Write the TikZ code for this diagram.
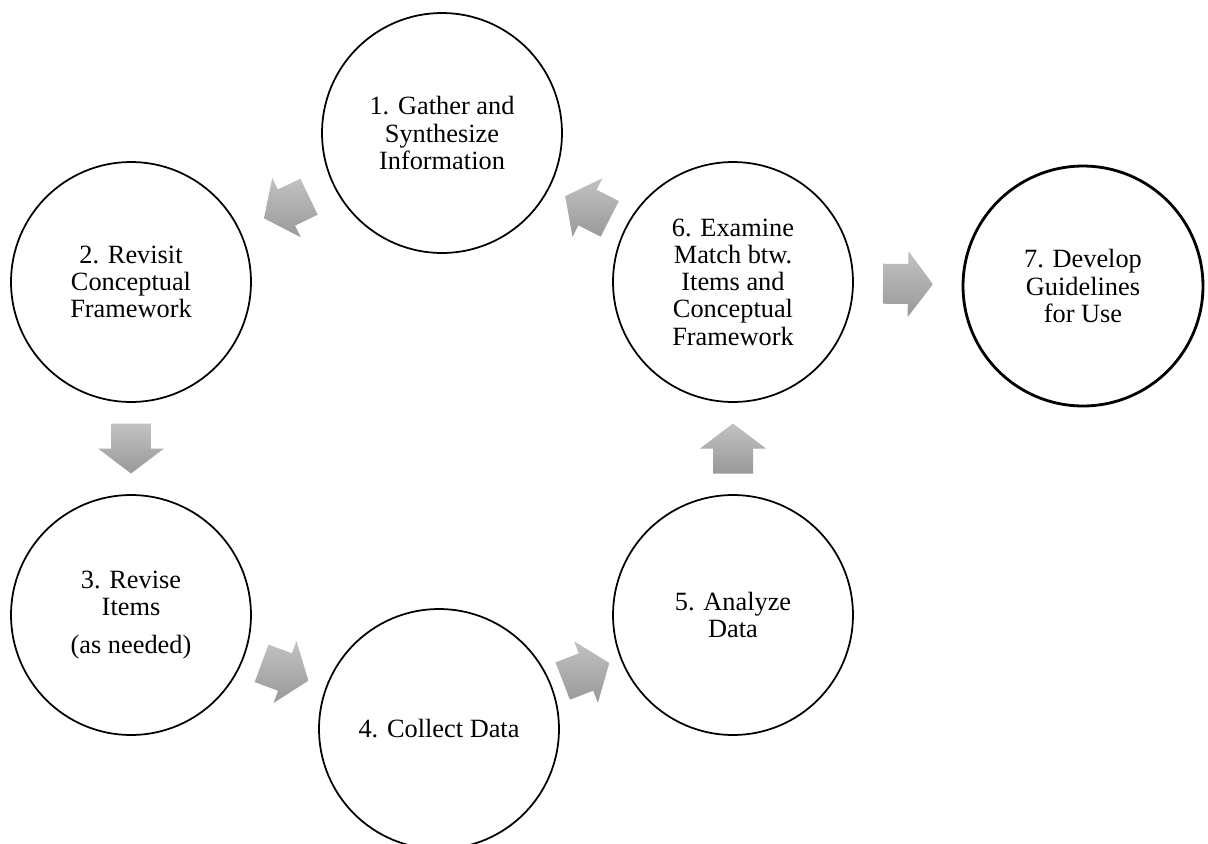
\documentclass[tikz,border=0pt]{standalone}
\usepackage{fontspec}
\setmainfont{Liberation Serif}
\usetikzlibrary{calc}

\tikzset{
  stepcircle/.style={circle, draw, line width=1pt, minimum size=4.8cm, inner sep=0pt,
    align=center, font=\fontsize{15}{15.5}\selectfont},
  laststep/.style={stepcircle, line width=1.6pt},
  flowarrow/.style={top color=black!24, bottom color=black!40, draw=none}
}

\begin{document}
\begin{tikzpicture}[x=0.02cm, y=-0.02cm]
  \useasboundingbox (0,0) rectangle (1208,843);

  % step circles
  \node[stepcircle] (s1) at (442,133) {1. Gather and\\Synthesize\\Information};
  \node[stepcircle] (s2) at (131,282) {2. Revisit\\Conceptual\\Framework};
  \node[stepcircle] (s3) at (131,615) {3. Revise\\Items\\[0.2cm](as needed)};
  \node[stepcircle] (s4) at (439,729) {4. Collect Data};
  \node[stepcircle] (s5) at (733,615) {5. Analyze\\Data};
  \node[stepcircle] (s6) at (733,282) {6. Examine\\Match btw.\\Items and\\Conceptual\\Framework};
  \node[laststep] (s7) at (1083,286) {7. Develop\\Guidelines\\for Use};

  % block arrows half way between the steps
  \foreach \a/\b in {s1/s2, s2/s3, s3/s4, s4/s5, s5/s6, s6/s1, s6/s7} {
    \path let \p1 = ($(\b)-(\a)$), \n1 = {atan2(\y1,\x1)} in
      coordinate (m) at ($(\a)!0.5!(\b)$)
      [flowarrow]
      ($(m)+(\n1:-0.5cm)+(\n1+90:-0.4cm)$) -- ($(m)+(\n1+90:-0.4cm)$)
      -- ($(m)+(\n1+90:-0.66cm)$) -- ($(m)+(\n1:0.5cm)$)
      -- ($(m)+(\n1+90:0.66cm)$) -- ($(m)+(\n1+90:0.4cm)$)
      -- ($(m)+(\n1:-0.5cm)+(\n1+90:0.4cm)$) -- cycle;
  }
\end{tikzpicture}
\end{document}
